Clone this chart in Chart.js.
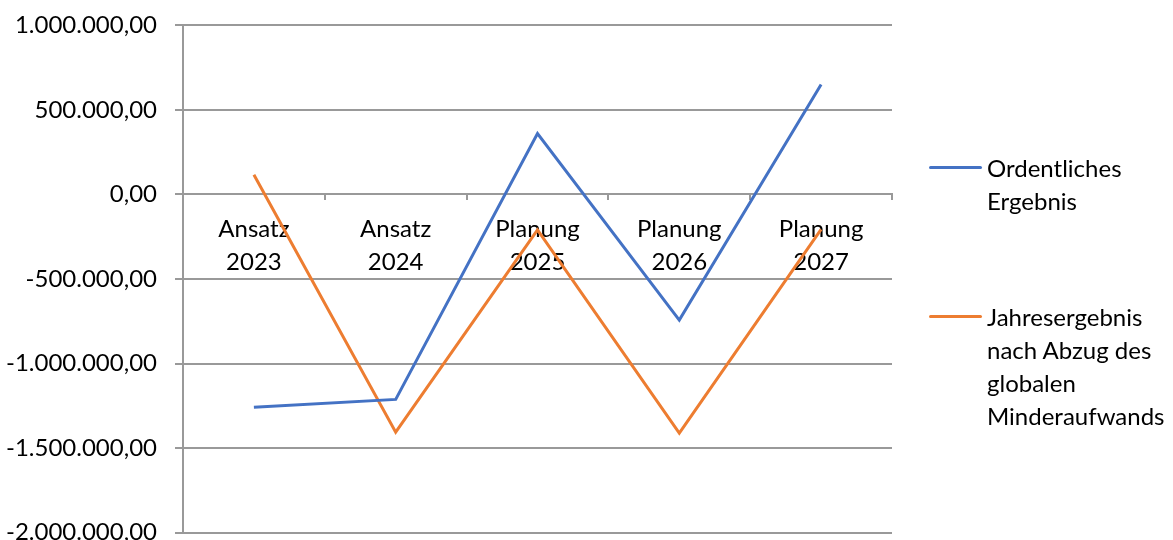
<!DOCTYPE html>
<html>
<head>
<meta charset="utf-8">
<script src="https://cdn.jsdelivr.net/npm/chart.js@4/dist/chart.umd.min.js"></script>
<style>
  html, body { margin: 0; padding: 0; background: #fff; overflow: hidden; }
  #wrap { position: relative; width: 1173px; height: 540px; overflow: hidden; }
  #c { position: absolute; left: 0; top: -7px; }
  .leg { position: absolute; font-family: Lato, "Open Sans", sans-serif; font-size: 24px; line-height: 33px; color: #000; }
  .leg .sw { position: absolute; left: 0; width: 53px; height: 3px; border-radius: 2px; }
  .leg .tx { position: absolute; left: 58px; top: 0; white-space: nowrap; }
</style>
</head>
<body>
<div id="wrap">
  <canvas id="c" width="1173" height="572"></canvas>
  <div id="legend"></div>
</div>
<script>
const categories = [["Ansatz", "2023"], ["Ansatz", "2024"], ["Planung", "2025"], ["Planung", "2026"], ["Planung", "2027"]];
const ordentlichesErgebnis = [-1259000, -1212000, 360000, -743000, 651000];
const jahresergebnis = [117000, -1406000, -209000, -1412000, -206000];
const seriesNames = [["Ordentliches", "Ergebnis"], ["Jahresergebnis", "nach Abzug des", "globalen", "Minderaufwands"]];
const seriesColors = ["#4472C4", "#ED7D31"];
const yMin = -2000000, yMax = 1000000, yStep = 500000;

const fmt = v => {
  const neg = v < 0;
  const s = Math.abs(v).toFixed(0).replace(/\B(?=(\d{3})+(?!\d))/g, ".");
  return (neg ? "-" : "") + s + ",00";
};

const grid = "#999999";
const yFont = { family: "Lato, 'Open Sans', sans-serif", size: 24 };
const xFont = { family: "Lato, 'Open Sans', sans-serif", size: 24, lineHeight: 1.375 };

new Chart(document.getElementById("c"), {
  type: "line",
  data: {
    labels: categories,
    datasets: [
      { label: seriesNames[0].join(" "), data: ordentlichesErgebnis, borderColor: seriesColors[0], backgroundColor: seriesColors[0], borderWidth: 3, pointRadius: 0, tension: 0 },
      { label: seriesNames[1].join(" "), data: jahresergebnis, borderColor: seriesColors[1], backgroundColor: seriesColors[1], borderWidth: 3, pointRadius: 0, tension: 0 }
    ]
  },
  options: {
    responsive: false,
    animation: false,
    events: [],
    layout: { padding: { left: 0, right: 281, top: 18, bottom: 0 } },
    plugins: { legend: { display: false }, tooltip: { enabled: false } },
    scales: {
      x: {
        position: { y: 0 },
        offset: true,
        grid: { offset: true, drawOnChartArea: false, drawTicks: true, tickLength: 5, color: grid, lineWidth: 2 },
        border: { display: true, color: grid, width: 2 },
        ticks: { font: xFont, color: "#000", padding: 13, maxRotation: 0, autoSkip: false }
      },
      y: {
        min: yMin, max: yMax,
        afterFit: s => { s.width = 183; },
        afterBuildTicks: s => {
          const t = [];
          for (let v = yMin; v <= yMax; v += yStep) t.push({ value: v });
          s.ticks = t;
        },
        grid: { color: grid, lineWidth: 2, tickLength: 8, drawTicks: true },
        border: { display: true, color: grid, width: 2 },
        ticks: { font: yFont, color: "#000", padding: 18, callback: v => fmt(v) }
      }
    }
  }
});

const legend = document.getElementById("legend");
const legPos = [{ left: 929, top: 151 }, { left: 929, top: 300 }];
seriesNames.forEach((lines, i) => {
  const d = document.createElement("div");
  d.className = "leg";
  d.style.left = legPos[i].left + "px";
  d.style.top = legPos[i].top + "px";
  d.innerHTML = '<div class="sw" style="top:15px;background:' + seriesColors[i] + '"></div><div class="tx">' + lines.join("<br>") + "</div>";
  legend.appendChild(d);
});
</script>
</body>
</html>
